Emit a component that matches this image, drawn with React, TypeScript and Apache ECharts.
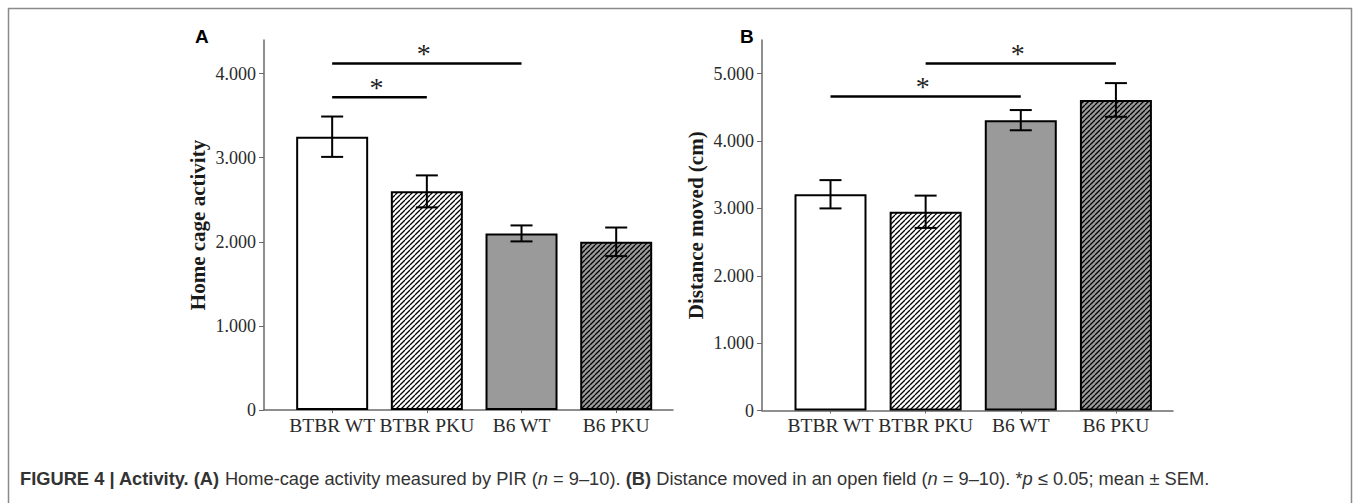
import React, { useEffect, useRef } from 'react';
import * as echarts from 'echarts';

const categories = ['BTBR WT', 'BTBR PKU', 'B6 WT', 'B6 PKU'];
const activityMean = [3250, 2600, 2100, 2000];
const activitySem = [240, 190, 95, 170];
const distanceMean = [3210, 2950, 4310, 4610];
const distanceSem = [210, 240, 150, 250];
const yTicksA = [0, 1000, 2000, 3000, 4000];
const yTicksB = [0, 1000, 2000, 3000, 4000, 5000];
// [from category, to category, height]
const sigA = [[0, 1, 3720], [0, 2, 4120]];
const sigB = [[0, 2, 4660], [1, 3, 5150]];
const xTickPositions = [0, 1, 2, 3];

function hatch(bg: string): HTMLCanvasElement {
  const s = 5;
  const c = document.createElement('canvas');
  c.width = s;
  c.height = s;
  const ctx = c.getContext('2d')!;
  ctx.fillStyle = bg;
  ctx.fillRect(0, 0, s, s);
  ctx.strokeStyle = '#000';
  ctx.lineWidth = 1.3;
  ctx.beginPath();
  for (const k of [-s, 0, s]) {
    ctx.moveTo(k, s);
    ctx.lineTo(k + s, 0);
  }
  ctx.stroke();
  return c;
}

export default function App() {
  const ref = useRef<HTMLDivElement>(null);
  useEffect(() => {
    if (!ref.current) return;
    const chart = echarts.init(ref.current, undefined, { renderer: 'svg' });
    const gray = '#9a9a9a';
    const fills: any[] = [
      '#ffffff',
      { image: hatch('#ffffff'), repeat: 'repeat' },
      gray,
      { image: hatch(gray), repeat: 'repeat' },
    ];
    const serif = 'Liberation Serif';
    const axisColor = '#6a6a6a';
    const fmt = (v: number) => (v === 0 ? '0' : (v / 1000).toFixed(3));

    const xAxis = (gi: number) => ({
      type: 'value',
      gridIndex: gi,
      min: -0.72,
      max: 3.6,
      splitLine: { show: false },
      axisLine: { show: true, lineStyle: { color: axisColor, width: 1.5 } },
      axisTick: { show: true, customValues: xTickPositions, length: 3, lineStyle: { color: axisColor } },
      axisLabel: {
        customValues: xTickPositions,
        formatter: (v: number) => categories[Math.round(v)],
        fontFamily: serif,
        fontSize: 19.5,
        color: '#2a2a2a',
        margin: 5,
      },
    });
    const yAxis = (gi: number, max: number, ticks: number[], name: string) => ({
      type: 'value',
      gridIndex: gi,
      min: 0,
      max,
      splitLine: { show: false },
      axisLine: { show: true, onZero: false, lineStyle: { color: axisColor, width: 1.5 } },
      axisTick: { show: true, customValues: ticks, length: 5, lineStyle: { color: axisColor } },
      axisLabel: { customValues: ticks, formatter: fmt, fontFamily: serif, fontSize: 18, color: '#2a2a2a', margin: 8 },
      name,
      nameLocation: 'middle',
      nameGap: 56,
      nameTextStyle: { fontFamily: serif, fontWeight: 'bold', fontSize: 21, color: '#1a1a1a' },
    });

    const barSeries = (gi: number, mean: number[]) => ({
      type: 'bar',
      xAxisIndex: gi,
      yAxisIndex: gi,
      barWidth: 72,
      data: mean.map((v, i) => ({
        value: [i, v],
        itemStyle: { color: fills[i], borderColor: '#000', borderWidth: 2 },
      })),
    });
    const errSeries = (gi: number, mean: number[], sem: number[]) => ({
      type: 'custom',
      xAxisIndex: gi,
      yAxisIndex: gi,
      z: 10,
      encode: { x: 0, y: 1 },
      data: mean.map((v, i) => [i, v, sem[i]]),
      renderItem: (params: any, api: any) => {
        const x = api.value(0);
        const m = api.value(1);
        const e = api.value(2);
        const t = api.coord([x, m + e]);
        const b = api.coord([x, m - e]);
        const hw = 11;
        const st = { stroke: '#000', lineWidth: 2 };
        return {
          type: 'group',
          children: [
            { type: 'line', shape: { x1: t[0], y1: t[1], x2: b[0], y2: b[1] }, style: st },
            { type: 'line', shape: { x1: t[0] - hw, y1: t[1], x2: t[0] + hw, y2: t[1] }, style: st },
            { type: 'line', shape: { x1: b[0] - hw, y1: b[1], x2: b[0] + hw, y2: b[1] }, style: st },
          ],
        };
      },
    });
    const sigSeries = (gi: number, sig: number[][]) => ({
      type: 'custom',
      xAxisIndex: gi,
      yAxisIndex: gi,
      z: 10,
      encode: { x: [0, 1], y: 2 },
      data: sig,
      clip: false,
      renderItem: (params: any, api: any) => {
        const p1 = api.coord([api.value(0), api.value(2)]);
        const p2 = api.coord([api.value(1), api.value(2)]);
        return {
          type: 'group',
          children: [
            { type: 'line', shape: { x1: p1[0], y1: p1[1], x2: p2[0], y2: p2[1] }, style: { stroke: '#000', lineWidth: 2.5 } },
            {
              type: 'text',
              x: (p1[0] + p2[0]) / 2 - 3,
              y: p1[1] + 4,
              style: { text: '*', fontFamily: serif, fontSize: 28, fill: '#222', align: 'center', verticalAlign: 'bottom' },
            },
          ],
        };
      },
    });

    chart.setOption({
      animation: false,
      backgroundColor: '#ffffff',
      grid: [
        { left: 264, top: 40, width: 409, height: 370 },
        { left: 762, top: 40, width: 411, height: 370.5 },
      ],
      xAxis: [xAxis(0), xAxis(1)],
      yAxis: [
        yAxis(0, 4400, yTicksA, 'Home cage activity'),
        yAxis(1, 5500, yTicksB, 'Distance moved (cm)'),
      ],
      series: [
        barSeries(0, activityMean),
        errSeries(0, activityMean, activitySem),
        sigSeries(0, sigA),
        barSeries(1, distanceMean),
        errSeries(1, distanceMean, distanceSem),
        sigSeries(1, sigB),
      ],
      graphic: [
        {
          type: 'rect',
          shape: { x: 8.5, y: 8.5, width: 1343, height: 520 },
          style: { fill: 'none', stroke: '#8a8a8a', lineWidth: 1.5 },
          silent: true,
        },
        { type: 'text', x: 195, y: 27, style: { text: 'A', fontFamily: 'Liberation Sans', fontWeight: 'bold', fontSize: 19, fill: '#000' } },
        { type: 'text', x: 740, y: 27, style: { text: 'B', fontFamily: 'Liberation Sans', fontWeight: 'bold', fontSize: 19, fill: '#000' } },
        {
          type: 'text',
          x: 20,
          y: 478,
          style: {
            text: '{b|FIGURE 4 | Activity. (A)} Home-cage activity measured by PIR ({i|n} = 9–10). {b|(B)} Distance moved in an open field ({i|n} = 9–10). *{i|p} ≤ 0.05; mean ± SEM.',
            fontFamily: 'Liberation Sans',
            fontSize: 18.3,
            fill: '#333',
            verticalAlign: 'middle',
            rich: {
              b: { fontFamily: 'Liberation Sans', fontSize: 18.3, fontWeight: 'bold', color: '#222' },
              i: { fontFamily: 'Liberation Sans', fontSize: 18.3, fontStyle: 'italic', color: '#333' },
            },
          },
        },
      ],
    });
    return () => chart.dispose();
  }, []);
  return <div ref={ref} style={{ position: 'absolute', left: 0, top: 0, width: 1357, height: 503 }} />;
}
